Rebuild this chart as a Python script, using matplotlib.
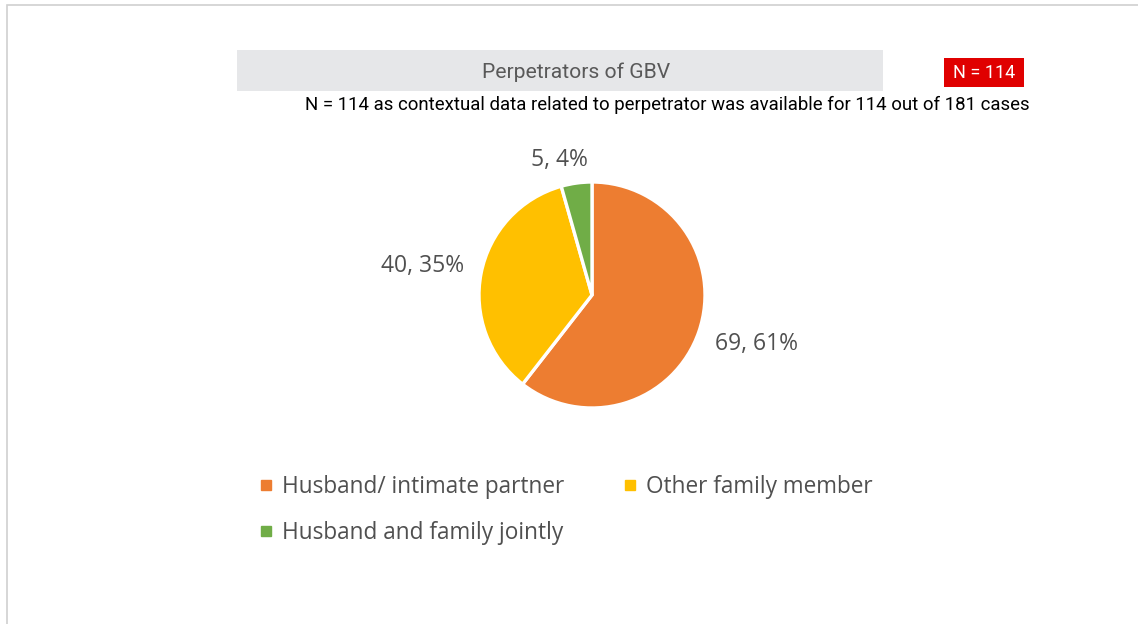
import matplotlib
matplotlib.use("Agg")
import matplotlib.pyplot as plt
from matplotlib.patches import Rectangle
from matplotlib.lines import Line2D
import numpy as np

categories = ["Husband/ intimate partner", "Other family member", "Husband and family jointly"]
counts = [69, 40, 5]
percents = [61, 35, 4]
colors = ["#ED7D31", "#FFC000", "#70AD47"]
title = "Perpetrators of GBV"
badge = "N = 114"
subtitle = "N = 114 as contextual data related to perpetrator was available for 114 out of 181 cases"

W, H = 1138, 624
fig = plt.figure(figsize=(W / 100, H / 100), dpi=100)

def fx(px):
    return px / W

def fy(py):
    return 1 - py / H

# outer border (top & left visible)
fig.patches.append(Rectangle((fx(7), -0.1), 1.2, fy(5) + 0.1, transform=fig.transFigure,
                             fill=False, edgecolor="#D0D0D0", linewidth=1.2))

# title bar
fig.patches.append(Rectangle((fx(237), fy(91)), fx(883) - fx(237), fy(50) - fy(91),
                             transform=fig.transFigure, facecolor="#E6E7E9", edgecolor="none"))
fig.text(fx(576), fy(72), title, ha="center", va="center", fontsize=15.2,
         family="Roboto", color="#595959")

# badge
fig.patches.append(Rectangle((fx(944), fy(87)), fx(1024) - fx(944), fy(58) - fy(87),
                             transform=fig.transFigure, facecolor="#E00000", edgecolor="none"))
fig.text(fx(984), fy(72.5), badge, ha="center", va="center", fontsize=13,
         family="Roboto", color="white")

fig.text(fx(667), fy(105), subtitle, ha="center", va="center", fontsize=13.4,
         family="Roboto", color="black")

# pie
cx, cy, R = 592, 295, 113
ax = fig.add_axes([fx(cx - R), fy(cy + R), 2 * R / W, 2 * R / H])
wedges, _ = ax.pie(counts, colors=colors, startangle=90, counterclock=False,
                   wedgeprops=dict(edgecolor="white", linewidth=2.4))
ax.set_xlim(-1, 1)
ax.set_ylim(-1, 1)
ax.set_aspect("equal")
ax.axis("off")

label_dist = [1.52, 1.52, 1.23]
label_nudge_deg = [2.5, 1.5, 5.5]
for w, c, p, d, n in zip(wedges, counts, percents, label_dist, label_nudge_deg):
    ang = np.deg2rad((w.theta1 + w.theta2) / 2 + n)
    ax.text(d * np.cos(ang), d * np.sin(ang), f"{c}, {p}%", ha="center", va="center",
            fontsize=16.5, family="Open Sans", color="#505050", clip_on=False)

handles = [Line2D([], [], marker="s", linestyle="none", markersize=7,
                  markerfacecolor=col, markeredgecolor=col) for col in colors]
order = [0, 2, 1]  # row-major order for a 2-column legend
fig.legend([handles[i] for i in order], [categories[i] for i in order],
           loc="upper left", bbox_to_anchor=(fx(239), fy(455)),
           ncol=2, frameon=False, prop=dict(family="Open Sans", size=16.3),
           labelcolor="#505050", handlelength=0.6, handletextpad=0.4,
           columnspacing=2.6, labelspacing=0.95)

fig.savefig("out.png", dpi=100)
